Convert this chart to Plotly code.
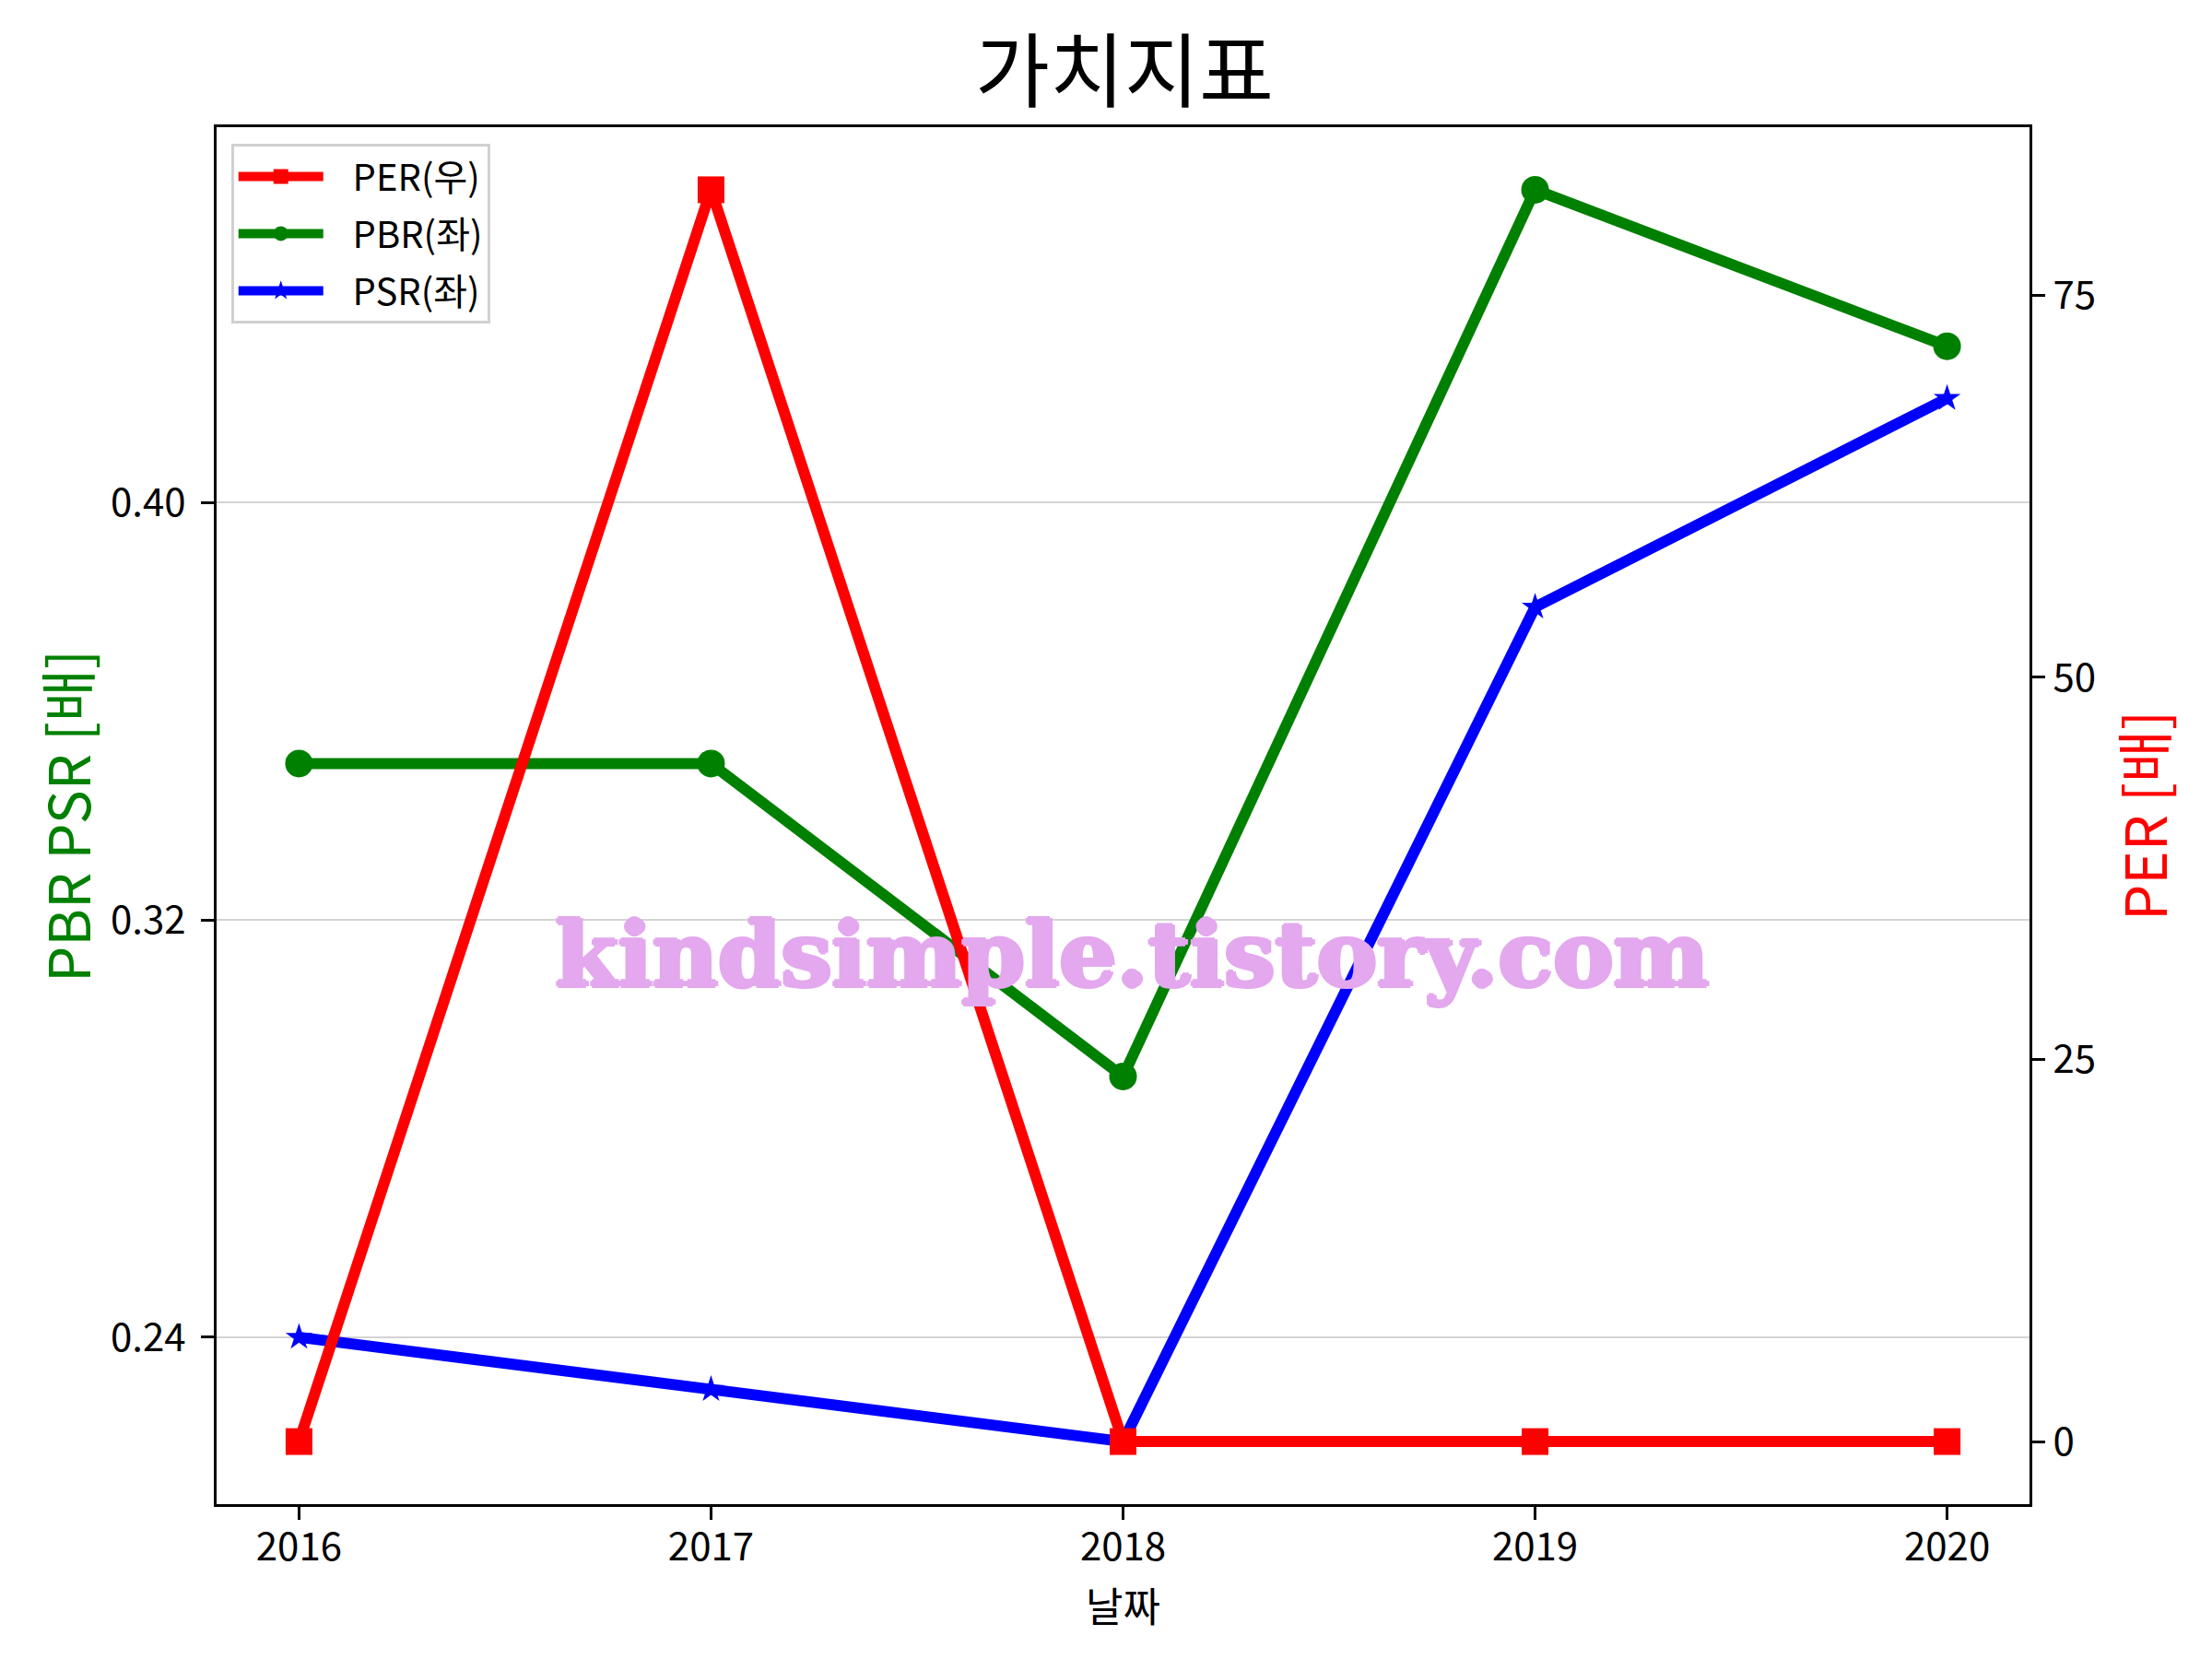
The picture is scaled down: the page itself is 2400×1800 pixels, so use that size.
import plotly.graph_objects as go

years = [2016, 2017, 2018, 2019, 2020]
per = [0.0, 81.9, 0.0, 0.0, 0.0]
pbr = [0.350, 0.350, 0.290, 0.460, 0.430]
psr = [0.240, 0.230, 0.220, 0.380, 0.420]
names = ["PER(우)", "PBR(좌)", "PSR(좌)"]

left_ticks = [0.24, 0.32, 0.40]
right_ticks = [0, 25, 50, 75]

FONT = "Noto Sans CJK KR"
WM = "#E3A8EE"
GAP = "\u00a0\u00a0\u00a0"


def pad_range(vals, frac=0.05):
    lo, hi = min(vals), max(vals)
    d = (hi - lo) * frac
    return [lo - d, hi + d]


fig = go.Figure()
fig.add_trace(go.Scatter(
    x=years, y=per, name=GAP + names[0], mode="lines+markers", yaxis="y2",
    legendgroup="a",
    line=dict(color="#FF0000", width=12),
    marker=dict(symbol="square", size=29, color="#FF0000"),
))
fig.add_trace(go.Scatter(
    x=years, y=pbr, name=GAP + names[1], mode="lines+markers", yaxis="y",
    legendgroup="b",
    line=dict(color="#008000", width=12),
    marker=dict(symbol="circle", size=30, color="#008000"),
))
fig.add_trace(go.Scatter(
    x=years, y=psr, name=GAP + names[2], mode="lines+markers", yaxis="y",
    legendgroup="c",
    line=dict(color="#0000FF", width=12),
    marker=dict(symbol="star", size=22, color="#0000FF"),
))

xr = pad_range(years)
yl = pad_range(pbr + psr)
yr = pad_range(per)

axis_common = dict(
    showline=True, linecolor="black", linewidth=3,
    ticks="outside", ticklen=14, tickwidth=3, tickcolor="black",
    tickfont=dict(family=FONT, size=42, color="black"),
    zeroline=False, automargin=False,
)

fig.update_layout(
    width=2400, height=1800,
    paper_bgcolor="white", plot_bgcolor="white",
    margin=dict(l=227, r=206, t=130, b=176),
    font=dict(family=FONT, color="black"),
    title=dict(text="가치지표", x=0.505, xanchor="center",
               y=1 - 70 / 1800, yanchor="middle", yref="container",
               font=dict(family=FONT, size=88, color="black")),
    xaxis=dict(
        range=xr, tickvals=years, ticktext=[str(y) for y in years],
        showgrid=False, mirror=True, ticklabelstandoff=-6,
        **axis_common,
    ),
    yaxis=dict(
        range=yl, tickvals=left_ticks, ticktext=[f"{v:.2f}" for v in left_ticks],
        showgrid=True, gridcolor="#d4d4d4", gridwidth=2,
        ticklabelstandoff=8,
        **axis_common,
    ),
    yaxis2=dict(
        range=yr, tickvals=right_ticks, ticktext=[str(v) for v in right_ticks],
        overlaying="y", side="right", showgrid=False,
        **axis_common,
    ),
    legend=dict(
        x=0.008, y=0.988, xanchor="left", yanchor="top",
        bgcolor="rgba(255,255,255,0.8)", bordercolor="#d0d0d0", borderwidth=3,
        font=dict(family=FONT, size=40, color="black"),
        itemwidth=92, tracegroupgap=7,
    ),
    showlegend=True,
)

# axis titles
fig.add_annotation(
    text="날짜", xref="paper", yref="paper", x=0.5, y=-0.073,
    xanchor="center", yanchor="middle", showarrow=False,
    font=dict(family=FONT, size=44, color="black"),
)
fig.add_annotation(
    text="PBR PSR [배]", xref="paper", yref="paper", x=-0.0834, y=0.5,
    xanchor="center", yanchor="middle", showarrow=False, textangle=-90,
    font=dict(family=FONT, size=62, color="#008000"),
)
fig.add_annotation(
    text="PER [배]", xref="paper", yref="paper", x=1.062, y=0.5,
    xanchor="center", yanchor="middle", showarrow=False, textangle=-90,
    font=dict(family=FONT, size=62, color="#FF0000"),
)

fig.add_annotation(
    text="<b>kindsimple.tistory.com</b>", xref="paper", yref="paper",
    x=0.505, y=0.3995, xanchor="center", yanchor="middle", showarrow=False,
    font=dict(family="DejaVu Serif", size=98, color=WM,
              shadow=f"2px 0 0 {WM}, -2px 0 0 {WM}, 0 2px 0 {WM}, 0 -2px 0 {WM}, 3px 0 0 {WM}"),
)

fig.write_html("out.html")
